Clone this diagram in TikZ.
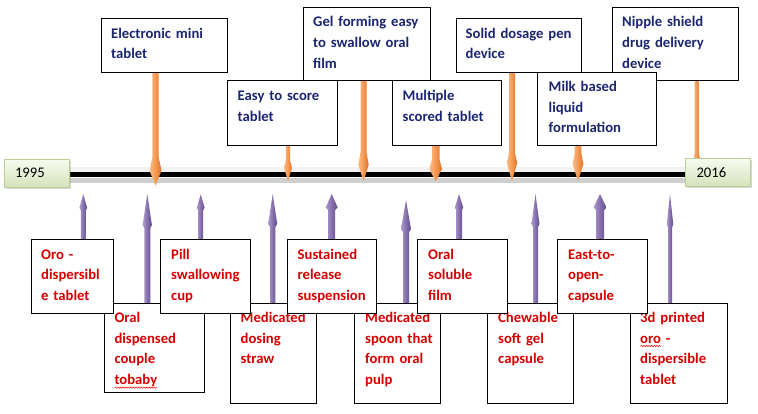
\documentclass[tikz,border=0pt]{standalone}
\usepackage{fontspec}
\setmainfont{Carlito}
\usetikzlibrary{calc,shadows,decorations.pathmorphing}
\pgfdeclarelayer{bg}
\pgfsetlayers{bg,main}
\definecolor{navyT}{RGB}{27,38,112}
\definecolor{redT}{RGB}{214,0,0}
\definecolor{orL}{RGB}{251,188,135}
\definecolor{orM}{RGB}{245,152,82}
\definecolor{orD}{RGB}{222,112,38}
\definecolor{puL}{RGB}{172,154,204}
\definecolor{puM}{RGB}{134,110,172}
\definecolor{puD}{RGB}{96,76,136}
\definecolor{yrTop}{RGB}{247,251,241}
\definecolor{yrBot}{RGB}{212,226,186}
\definecolor{yrLine}{RGB}{188,206,150}
\newcommand\arrDown[7]{%
  \path[#7] let \p1=#1, \p2=#2 in
  (\x2-#3pt,\y1) -- (\x2-#3pt,\y2+#6pt) -- (\x2-#4pt,\y2+#5pt) -- (\x2,\y2)
  -- (\x2+#4pt,\y2+#5pt) -- (\x2+#3pt,\y2+#6pt) -- (\x2+#3pt,\y1) -- cycle;}
\newcommand\arrUp[7]{%
  \path[#7] let \p1=#1, \p2=#2 in
  (\x2-#3pt,\y1) -- (\x2-#3pt,\y2-#6pt) -- (\x2-#4pt,\y2-#5pt) -- (\x2,\y2)
  -- (\x2+#4pt,\y2-#5pt) -- (\x2+#3pt,\y2-#6pt) -- (\x2+#3pt,\y1) -- cycle;}
\tikzset{
  tbox/.style={draw=black, line width=0.9pt, fill=white, inner sep=0pt, outer sep=0pt, anchor=north west},
  ttxt/.style={anchor=base west, inner sep=0pt, text width=140pt, align=left,
    font=\fontsize{14.67}{20.6}\selectfont\bfseries},
  toptxt/.style={ttxt, text=navyT},
  bottxt/.style={ttxt, text=redT},
  yearbox/.style={draw=yrLine, line width=0.8pt, top color=yrTop, bottom color=yrBot,
    minimum height=28pt, text width=43pt, inner xsep=11pt, inner ysep=0pt, align=left,
    font=\fontsize{14.67}{17}\selectfont,
    drop shadow={opacity=0.3, shadow xshift=1.6pt, shadow yshift=-1.6pt}},
  oarr/.style={left color=orL, right color=orD, middle color=orM, draw=none},
  parr/.style={left color=puL, right color=puD, middle color=puM, draw=none},
  squig/.style={draw=red, line width=0.5pt, decorate, decoration={snake, amplitude=0.7pt, segment length=2.6pt}}
}
\begin{document}
\begin{tikzpicture}[x=1pt, y=-1pt]
\useasboundingbox (0,0) rectangle (758,413);

% background and timeline
\begin{pgfonlayer}{bg}
\fill[white] (0,0) rectangle (758,413);
\fill[gray!10] (66,166.5) rectangle (690,171.6);
\fill[black] (66,171.6) rectangle (690,176.8);
\fill[gray!38] (66,178.4) rectangle (690,183.2);
\end{pgfonlayer}

% year boxes
\node[yearbox] (y95) at (36.5,173) {1995};
\node[yearbox] (y16) at (718,172.5) {2016};

% timeline points
\coordinate (o1) at (155.5,185.5);
\coordinate (o2) at (288,181);
\coordinate (o3) at (363.5,181);
\coordinate (o4) at (435.7,181.5);
\coordinate (o5) at (512,181);
\coordinate (o6) at (578,181);
\coordinate (o7) at (696.7,178);
\coordinate (p1) at (83.3,194.3);
\coordinate (p2) at (147.3,194);
\coordinate (p3) at (200.7,194.3);
\coordinate (p4) at (272.7,194);
\coordinate (p5) at (331.7,194);
\coordinate (p6) at (406,200);
\coordinate (p7) at (459,194);
\coordinate (p8) at (535.5,194);
\coordinate (p9) at (600,194);
\coordinate (p10) at (670,194);

% top boxes
\node[tbox, minimum width=126pt, minimum height=54pt] (e1) at (101,18) {};
\node[toptxt] (e1t) at ($(e1.north west)+(10,20)$) {Electronic mini\\tablet};
\node[tbox, minimum width=127pt, minimum height=73pt] (g1) at (303,7) {};
\node[toptxt] (g1t) at ($(g1.north west)+(10,19.8)$) {Gel forming easy\\to swallow oral\\film};
\node[tbox, minimum width=125pt, minimum height=54pt] (s1) at (456,18) {};
\node[toptxt] (s1t) at ($(s1.north west)+(9.5,20)$) {Solid dosage pen\\device};
\node[tbox, minimum width=126pt, minimum height=73pt] (n1) at (612,7) {};
\node[toptxt] (n1t) at ($(n1.north west)+(10,19.8)$) {Nipple shield\\drug delivery\\device};
\node[tbox, minimum width=110pt, minimum height=65pt] (ea) at (227,80) {};
\node[toptxt] (eat) at ($(ea.north west)+(10.5,20.5)$) {Easy to score\\tablet};
\node[tbox, minimum width=109pt, minimum height=65pt] (mu) at (392,80) {};
\node[toptxt] (mut) at ($(mu.north west)+(10.5,20.5)$) {Multiple\\scored tablet};
\node[tbox, minimum width=119pt, minimum height=73pt] (mi) at (537,72) {};
\node[toptxt] (mit) at ($(mi.north west)+(11.5,19.7)$) {Milk based\\liquid\\formulation};

% bottom boxes, lower row
\node[tbox, minimum width=100pt, minimum height=89pt] (od) at (104,303) {};
\node[bottxt] (odt) at ($(od.north west)+(10.3,19.5)$) {Oral\\dispensed\\couple\\tobaby};
\node[tbox, minimum width=86pt, minimum height=100pt] (ms) at (230,303) {};
\node[bottxt] (mst) at ($(ms.north west)+(10.5,19.5)$) {Medicated\\dosing\\straw};
\node[tbox, minimum width=86pt, minimum height=100pt] (sp) at (354,303) {};
\node[bottxt] (spt) at ($(sp.north west)+(11,19.5)$) {Medicated\\spoon that\\form oral\\pulp};
\node[tbox, minimum width=86pt, minimum height=100pt] (ch) at (487,303) {};
\node[bottxt] (cht) at ($(ch.north west)+(11,19.5)$) {Chewable\\soft gel\\capsule};
\node[tbox, minimum width=97pt, minimum height=100pt] (td) at (630,303) {};
\node[bottxt] (tdt) at ($(td.north west)+(10,19.5)$) {3d printed\\oro -\\dispersible\\tablet};

% bottom boxes, upper row
\node[tbox, minimum width=82pt, minimum height=74pt] (oro) at (31,239) {};
\node[bottxt] (orot) at ($(oro.north west)+(10,20)$) {Oro -\\dispersibl\\e tablet};
\node[tbox, minimum width=90pt, minimum height=74pt] (pill) at (160,239) {};
\node[bottxt] (pillt) at ($(pill.north west)+(11,20)$) {Pill\\swallowing\\cup};
\node[tbox, minimum width=89pt, minimum height=74pt] (sus) at (287,239) {};
\node[bottxt] (sust) at ($(sus.north west)+(10.5,20)$) {Sustained\\release\\suspension};
\node[tbox, minimum width=90pt, minimum height=74pt] (sol) at (417,239) {};
\node[bottxt] (solt) at ($(sol.north west)+(11,20)$) {Oral\\soluble\\film};
\node[tbox, minimum width=90pt, minimum height=74pt] (east) at (557,239) {};
\node[bottxt] (eastt) at ($(east.north west)+(11,20)$) {East-to-\\open-\\capsule};

% spelling marks
\draw[squig] (114.5,387.6) -- (157,387.6);
\draw[squig] (640.5,346) -- (661,346);

% arrows
\begin{pgfonlayer}{bg}
\arrDown{(o1 |- e1.south)}{(o1)}{3.2}{6}{15}{28}{oarr}
\arrDown{(o2 |- ea.south)}{(o2)}{2.1}{3.9}{13}{21}{oarr}
\arrDown{(o3 |- g1.south)}{(o3)}{3}{5.2}{16}{29}{oarr}
\arrDown{(o4 |- mu.south)}{(o4)}{3.8}{6.3}{12.5}{22}{oarr}
\arrDown{(o5 |- s1.south)}{(o5)}{3}{5.2}{18}{28}{oarr}
\arrDown{(o6 |- mi.south)}{(o6)}{3.3}{5.4}{17}{28}{oarr}
\arrDown{(o7 |- n1.south)}{(o7)}{2.1}{4}{16}{25}{oarr}
\arrUp{(p1 |- oro.north)}{(p1)}{2.5}{3.9}{13.5}{16}{parr}
\arrUp{(p2 |- od.north)}{(p2)}{3}{4.6}{31}{34}{parr}
\arrUp{(p3 |- pill.north)}{(p3)}{2.5}{3.9}{13.5}{16}{parr}
\arrUp{(p4 |- ms.north)}{(p4)}{2.7}{4.5}{30}{33}{parr}
\arrUp{(p5 |- sus.north)}{(p5)}{3.5}{6}{13.5}{16}{parr}
\arrUp{(p6 |- sp.north)}{(p6)}{3}{5}{29}{32}{parr}
\arrUp{(p7 |- sol.north)}{(p7)}{3}{4.2}{13.5}{16}{parr}
\arrUp{(p8 |- ch.north)}{(p8)}{2.5}{4}{30}{33}{parr}
\arrUp{(p9 |- east.north)}{(p9)}{4}{6.5}{13.5}{16}{parr}
\arrUp{(p10 |- td.north)}{(p10)}{2}{3.2}{30}{34}{parr}
\end{pgfonlayer}
\end{tikzpicture}
\end{document}
